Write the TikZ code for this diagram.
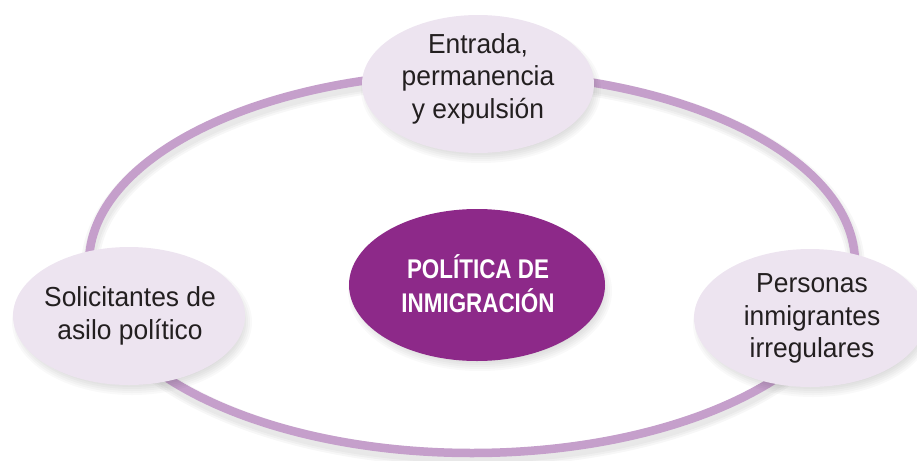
\documentclass[tikz,border=0pt]{standalone}
\usepackage{fontspec}
\setmainfont{Liberation Sans}[FakeStretch=0.96]
\newfontfamily\condfont{Liberation Sans}[FakeStretch=0.83]
\usetikzlibrary{shapes.geometric}
\definecolor{ringcol}{HTML}{C59FCB}
\definecolor{bubblefill}{HTML}{EDE4F0}
\definecolor{corefill}{HTML}{8D2989}
\definecolor{ink}{HTML}{231F20}
\newcommand\bubbleshadow[4]{%
  \foreach \k in {0,...,5}{\fill[black,opacity=0.025] (#1+3,#2+6) ellipse [x radius=#3-6+2*\k, y radius=#4-6+2*\k];}}
\begin{document}
\begin{tikzpicture}[x=1pt,y=-1pt,
  bubble/.style={ellipse, fill=bubblefill, minimum width=232pt, minimum height=138pt, inner sep=0pt},
  corebubble/.style={ellipse, fill=corefill, minimum width=256pt, minimum height=152pt, inner sep=0pt},
  lbl/.style={align=center, text=ink, font=\fontsize{27.5}{32.5}\selectfont, inner sep=0pt},
  corelbl/.style={align=center, text=white, font=\condfont\bfseries\fontsize{27}{34}\selectfont, inner sep=0pt}]
\useasboundingbox (0,0) rectangle (917,460);
\clip (0,0) rectangle (917,460);
% ring shadow and ring
\foreach \w in {18,14,10}{\draw[line width=\w pt, black, opacity=0.03] (473,268) ellipse [x radius=383, y radius=190];}
\draw[line width=8.5pt, ringcol] (472,263) ellipse [x radius=383, y radius=190];
% shadows
\bubbleshadow{478}{84}{116}{69}
\bubbleshadow{129}{316}{116}{69}
\bubbleshadow{810}{318}{116}{69}
\bubbleshadow{477}{285}{128}{76}
% bubbles
\node[bubble] (entrada) at (478,84) {};
\node[bubble] (asilo) at (129,316) {};
\node[bubble] (irreg) at (810,318) {};
\node[corebubble] (core) at (477,285) {};
% labels
\node[lbl] (entradat) at (478,78.4) {Entrada,\\permanencia\\y expulsión};
\node[lbl] (asilot) at (130,315.7) {Solicitantes de\\asilo político};
\node[lbl] (irregt) at (812,318.5) {Personas\\inmigrantes\\irregulares};
\node[corelbl] (coret) at (478,283.5) {POLÍTICA DE\\INMIGRACIÓN};
\end{tikzpicture}
\end{document}
